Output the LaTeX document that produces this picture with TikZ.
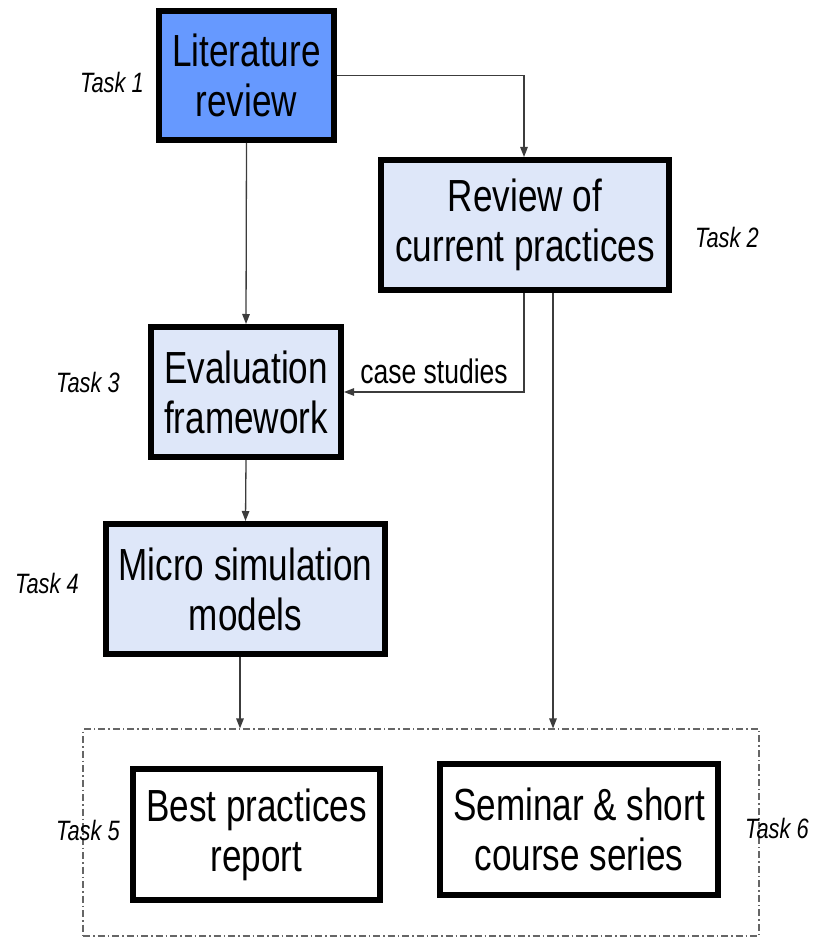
\documentclass[tikz,border=0pt]{standalone}
\usepackage{fontspec}
\setmainfont{Liberation Sans}[FakeStretch=0.78]
\usetikzlibrary{arrows.meta}
\definecolor{taskblue}{RGB}{102,153,255}
\definecolor{paleblue}{RGB}{222,231,249}
\definecolor{linkgray}{RGB}{60,60,60}
\tikzset{
  taskbox/.style={draw=black, line width=6pt, align=center,
    font=\fontsize{45}{50}\selectfont, inner sep=0pt},
  tasklabel/.style={font=\fontsize{28}{32}\selectfont\itshape},
  link/.style={draw=linkgray, line width=1.3pt,
    -{Triangle[length=10pt,width=7.5pt]}},
  groupbox/.style={draw=black!60, line width=1.1pt,
    dash pattern=on 7pt off 3pt on 1.5pt off 3pt, inner sep=0pt}
}
\begin{document}
\begin{tikzpicture}[x=1pt, y=-1pt]
\useasboundingbox (0,0) rectangle (812,949);

% task boxes
\node[taskbox, fill=taskblue, minimum width=175pt, minimum height=129pt]
  (lit) at (246.5,75.5) {Literature\\review};
\node[taskbox, fill=paleblue, minimum width=288pt, minimum height=130pt]
  (rev) at (525,225) {Review of\\current practices};
\node[taskbox, fill=paleblue, minimum width=190pt, minimum height=130pt]
  (eval) at (246,392) {Evaluation\\framework};
\node[taskbox, fill=paleblue, minimum width=279pt, minimum height=130pt]
  (micro) at (245.5,589) {Micro simulation\\models};

% output group
\node[groupbox, minimum width=676pt, minimum height=207pt]
  (grp) at (421,832.5) {};
\node[taskbox, fill=white, minimum width=247pt, minimum height=131pt]
  (best) at (256.5,834.5) {Best practices\\report};
\node[taskbox, fill=white, minimum width=278pt, minimum height=131pt]
  (sem) at (579,829.5) {Seminar \& short\\course series};

% task labels
\node[tasklabel] (t1) at (112,82) {Task 1};
\node[tasklabel] (t2) at (727,237) {Task 2};
\node[tasklabel] (t3) at (88,382) {Task 3};
\node[tasklabel] (t4) at (47,583) {Task 4};
\node[tasklabel] (t5) at (88,830) {Task 5};
\node[tasklabel] (t6) at (777,828) {Task 6};

% connectors
\draw[link] (lit.east) -| ([xshift=-1pt]rev.north);
\draw[link] (lit.south) -- (eval.north);
\draw[link] ([xshift=-1pt]rev.south) |- (eval.east)
  node[pos=0.75, above=4pt, font=\fontsize{34}{40}\selectfont, text=black] (cs) {case studies};
\draw[link] (eval.south) -- (micro.north);
\coordinate (mdrop) at ([xshift=-5.5pt]micro.south);
\draw[link] (mdrop) -- (mdrop |- grp.north);
\coordinate (rdrop) at ([xshift=28pt]rev.south);
\draw[link] (rdrop) -- (rdrop |- grp.north);
\end{tikzpicture}
\end{document}
